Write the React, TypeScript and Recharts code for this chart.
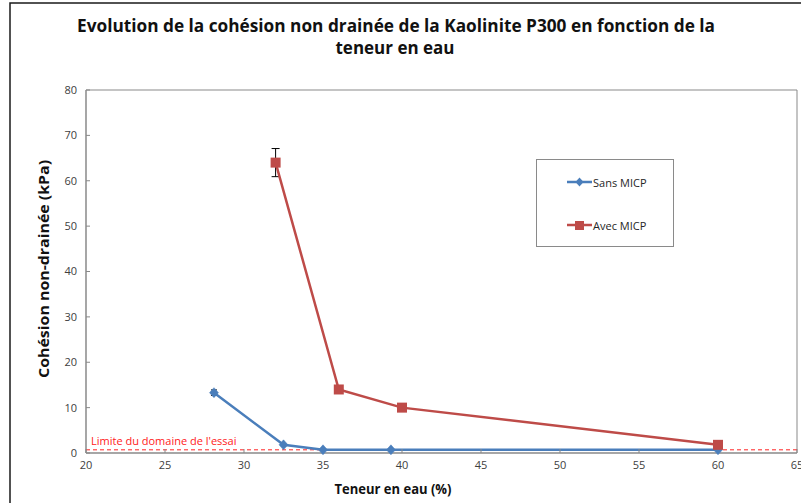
import React from 'react'
import {
  LineChart,
  Line,
  XAxis,
  YAxis,
  ErrorBar,
  ReferenceLine,
  ReferenceArea,
  Legend,
} from 'recharts'

const sansX = [28.1, 32.5, 35.0, 39.3, 60]
const sansY = [13.3, 1.8, 0.7, 0.7, 0.7]
const sansErr = [0.6, 0, 0, 0, 0]

const avecX = [32, 36, 40, 60]
const avecY = [64, 14, 10, 1.8]
const avecErr = [3.1, 0, 0, 0]

const xTicks = [20, 25, 30, 35, 40, 45, 50, 55, 60, 65]
const yTicks = [0, 10, 20, 30, 40, 50, 60, 70, 80]
const limitValue = 0.7

const sansData = sansX.map((x, i) => ({ x, y: sansY[i], err: sansErr[i] }))
const avecData = avecX.map((x, i) => ({ x, y: avecY[i], err: avecErr[i] }))

const BLUE = '#4a7ebb'
const RED = '#be4b48'
const FONT = '"Open Sans", "DejaVu Sans", sans-serif'

const Diamond = (props: any) => {
  const { cx, cy } = props
  if (cx == null || cy == null) return null
  return <path d={`M${cx},${cy - 5} L${cx + 4.5},${cy} L${cx},${cy + 5} L${cx - 4.5},${cy} Z`} fill={BLUE} stroke={BLUE} strokeWidth={0.5} />
}

const Square = (props: any) => {
  const { cx, cy } = props
  if (cx == null || cy == null) return null
  return <rect x={cx - 5} y={cy - 5} width={10} height={10} fill={RED} />
}

function LegendBox() {
  return (
    <div style={{ width: 138, height: 88, border: '1px solid #8a8a8a', boxSizing: 'border-box', background: '#fff' }}>
      <svg width={136} height={86}>
        <line x1={30} x2={55} y1={22} y2={22} stroke={BLUE} strokeWidth={2.5} />
        <path d="M42.5,17.5 L46.5,22 L42.5,26.5 L38.5,22 Z" fill={BLUE} />
        <text x={56} y={22} dominantBaseline="central" fontSize={11} fontFamily={FONT} fill="#262626">Sans MICP</text>
        <line x1={30} x2={55} y1={65} y2={65} stroke={RED} strokeWidth={2.5} />
        <rect x={38} y={61} width={9} height={9} fill={RED} />
        <text x={56} y={65} dominantBaseline="central" fontSize={11} fontFamily={FONT} fill="#262626">Avec MICP</text>
      </svg>
    </div>
  )
}

export default function App() {
  return (
    <div style={{ position: 'absolute', left: 0, top: 0, width: 801, height: 503, background: '#fff', overflow: 'hidden' }}>
      <LineChart
        width={801}
        height={503}
        margin={{ top: 90, right: 4, bottom: 20, left: 46 }}
        style={{ fontFamily: FONT }}
      >
        <XAxis
          type="number"
          dataKey="x"
          domain={[20, 65]}
          ticks={xTicks}
          height={30}
          allowDataOverflow
          stroke="#898989"
          tickSize={-4}
          tickMargin={12}
          tick={{ fill: '#404040', fontSize: 11 }}
          interval={0}
        />
        <YAxis
          type="number"
          domain={[0, 80]}
          ticks={yTicks}
          width={40}
          stroke="#898989"
          tickSize={-4}
          tickMargin={13}
          tick={{ fill: '#404040', fontSize: 11 }}
          interval={0}
        />
        <ReferenceArea x1={20} x2={65} y1={0} y2={80} fill="none" stroke="#898989" strokeWidth={1} />
        <ReferenceLine
          y={limitValue}
          stroke="#ff2020"
          strokeDasharray="4 3"
          strokeWidth={1}
          label={{ value: "Limite du domaine de l'essai", position: 'insideBottomLeft', offset: 5, fill: '#ff2020', fontSize: 11 }}
        />
        <Line
          data={sansData}
          dataKey="y"
          name="Sans MICP"
          stroke={BLUE}
          strokeWidth={2.5}
          dot={<Diamond />}
          activeDot={false}
          isAnimationActive={false}
        >
          <ErrorBar dataKey="err" width={3} stroke="#000" strokeWidth={1} direction="y" />
        </Line>
        <Line
          data={avecData}
          dataKey="y"
          name="Avec MICP"
          stroke={RED}
          strokeWidth={2.5}
          dot={<Square />}
          activeDot={false}
          isAnimationActive={false}
        >
          <ErrorBar dataKey="err" width={4} stroke="#000" strokeWidth={1} direction="y" />
        </Line>
        <Legend
          layout="vertical"
          align="center"
          verticalAlign="middle"
          content={() => <LegendBox />}
          wrapperStyle={{ position: 'absolute', left: 536, top: 159, width: 138, height: 88 }}
        />
      </LineChart>
      <svg width={801} height={503} style={{ position: 'absolute', left: 0, top: 0, pointerEvents: 'none' }}>
        <path d="M10,503 V3 H801" fill="none" stroke="#1a1a1a" strokeWidth={1.5} />
        <text x={396} y={32} textAnchor="middle" fontSize={17} fontWeight="bold" fontFamily={FONT} fill="#111" textLength={638} lengthAdjust="spacingAndGlyphs">
          Evolution de la cohésion non drainée de la Kaolinite P300 en fonction de la
        </text>
        <text x={395} y={54} textAnchor="middle" fontSize={17} fontWeight="bold" fontFamily={FONT} fill="#111" textLength={119} lengthAdjust="spacingAndGlyphs">
          teneur en eau
        </text>
        <text x={393} y={494} textAnchor="middle" fontSize={14} fontWeight="bold" fontFamily={FONT} fill="#111" textLength={117} lengthAdjust="spacingAndGlyphs">
          Teneur en eau (%)
        </text>
        <text
          transform="translate(49,269) rotate(-90)"
          textAnchor="middle"
          fontSize={14}
          fontWeight="bold"
          fontFamily={FONT}
          fill="#111"
          textLength={218}
          lengthAdjust="spacingAndGlyphs"
        >
          Cohésion non-drainée (kPa)
        </text>
      </svg>
    </div>
  )
}
